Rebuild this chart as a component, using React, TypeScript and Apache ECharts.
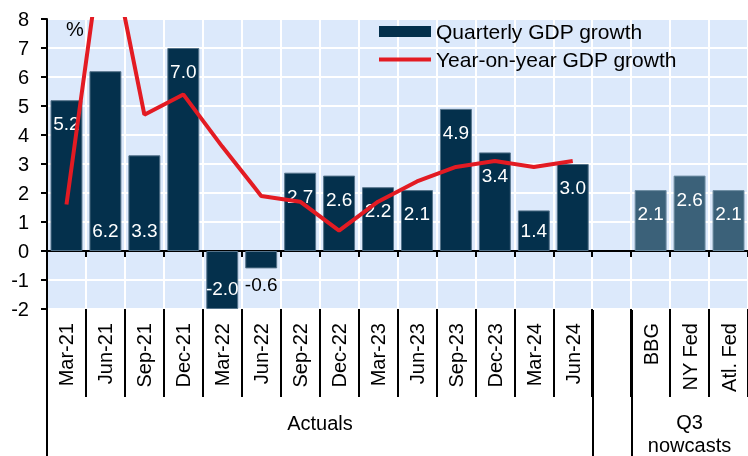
import React, { useEffect, useRef } from "react";
import * as echarts from "echarts";

const categories = [
  "Mar-21", "Jun-21", "Sep-21", "Dec-21", "Mar-22", "Jun-22", "Sep-22", "Dec-22",
  "Mar-23", "Jun-23", "Sep-23", "Dec-23", "Mar-24", "Jun-24", "", "BBG", "NY Fed", "Atl. Fed",
];
const quarterlyGrowth: (number | null)[] = [
  5.2, 6.2, 3.3, 7.0, -2.0, -0.6, 2.7, 2.6, 2.2, 2.1, 4.9, 3.4, 1.4, 3.0, null, 2.1, 2.6, 2.1,
];
const yoyGrowth: (number | null)[] = [
  1.6, 11.4, 4.7, 5.4, 3.6, 1.9, 1.7, 0.7, 1.7, 2.4, 2.9, 3.1, 2.9, 3.1, null, null, null, null,
];
const nowcastCategories = ["BBG", "NY Fed", "Atl. Fed"];
const labelAtBase = ["Jun-21", "Sep-21", "Mar-22", "Mar-24"];
const labelOutside = ["Jun-22"];
const yMin = -2;
const yMax = 8;
const yInterval = 1;
const groupActuals = "Actuals";
const groupNowcasts = "Q3\nnowcasts";

const FONT = "'Liberation Sans', Arial, sans-serif";
const NAVY = "#04304c";
const NOWCAST = "#3b6179";
const RED = "#e31b23";
const BG = "#dce9fb";

const GRID_LEFT = 47;
const GRID_TOP = 19;
const GRID_WIDTH = 702;
const GRID_HEIGHT = 290;

export default function App() {
  const ref = useRef<HTMLDivElement>(null);
  useEffect(() => {
    document.body.style.margin = "0";
    if (!ref.current) return;
    const chart = echarts.init(ref.current, undefined, { renderer: "svg" });
    const catW = GRID_WIDTH / categories.length;
    const bottomY = GRID_TOP + GRID_HEIGHT;
    const sepIdx = categories.indexOf("");

    const barData = quarterlyGrowth.map((v, i) => {
      const cat = categories[i];
      const isNow = nowcastCategories.includes(cat);
      let label: any = { position: "insideTop", distance: 14 };
      if (labelAtBase.includes(cat)) label = { position: "insideBottom", distance: 11 };
      if (labelOutside.includes(cat)) label = { position: "bottom", distance: 7, color: "#000" };
      return {
        value: v,
        itemStyle: isNow ? { color: NOWCAST, borderColor: "#6f8ea3" } : undefined,
        label,
      };
    });

    chart.setOption({
      animation: false,
      textStyle: { fontFamily: FONT },
      grid: {
        left: GRID_LEFT,
        top: GRID_TOP,
        width: GRID_WIDTH,
        height: GRID_HEIGHT,
        show: true,
        backgroundColor: BG,
        borderWidth: 0,
      },
      legend: {
        left: 379,
        top: 21,
        padding: 0,
        orient: "vertical",
        itemWidth: 52,
        itemHeight: 11,
        itemGap: 7,
        z: 10,
        textStyle: { fontSize: 21, color: "#000", fontFamily: FONT },
        data: [
          { name: "Quarterly GDP growth", icon: "rect", itemStyle: { borderWidth: 0 } },
          {
            name: "Year-on-year GDP growth",
            icon: "path://M0,0 L52,0 L52,4 L0,4 Z",
            itemStyle: { color: RED, borderWidth: 0 },
          },
        ],
      },
      xAxis: [
        {
          type: "category",
          data: categories,
          axisLine: { show: true, onZero: true, lineStyle: { color: "#000", width: 2 } },
          axisTick: { show: true, length: 6, interval: 0, lineStyle: { color: "#000", width: 2 } },
          axisLabel: { show: false },
          splitLine: { show: true, interval: 0, lineStyle: { color: "#fff", width: 2 } },
        },
        {
          type: "category",
          position: "bottom",
          data: categories,
          axisLine: { show: false, onZero: false },
          axisTick: { show: true, length: 88, interval: 0, lineStyle: { color: "#000", width: 2 } },
          axisLabel: {
            show: true,
            interval: 0,
            rotate: 90,
            margin: 14,
            fontSize: 20,
            color: "#000",
            fontFamily: FONT,
          },
          splitLine: { show: false },
        },
      ],
      yAxis: {
        type: "value",
        min: yMin,
        max: yMax,
        interval: yInterval,
        axisLine: { show: true, lineStyle: { color: "#000", width: 2 } },
        axisTick: { show: true, length: 6, lineStyle: { color: "#000", width: 2 } },
        axisLabel: { fontSize: 20, color: "#000", margin: 18, fontFamily: FONT },
        splitLine: { show: true, lineStyle: { color: "#fff", width: 2 } },
      },
      series: [
        {
          name: "Quarterly GDP growth",
          type: "bar",
          xAxisIndex: 0,
          data: barData,
          barCategoryGap: "18%",
          itemStyle: { color: NAVY, borderColor: "#55738a", borderWidth: 1 },
          label: {
            show: true,
            color: "#fff",
            fontSize: 19,
            fontFamily: FONT,
            formatter: (p: any) => (p.value == null ? "" : Number(p.value).toFixed(1)),
          },
          z: 2,
        },
        {
          name: "Year-on-year GDP growth",
          type: "line",
          xAxisIndex: 0,
          data: yoyGrowth,
          symbol: "none",
          showSymbol: false,
          connectNulls: false,
          clip: true,
          lineStyle: { color: RED, width: 4 },
          itemStyle: { color: RED },
          z: 3,
        },
      ],
      graphic: [
        {
          type: "text",
          left: 66,
          top: 19,
          style: { text: "%", fontSize: 20, fill: "#000", font: `20px ${FONT}` },
        },
        {
          type: "line",
          shape: { x1: GRID_LEFT, y1: bottomY, x2: GRID_LEFT, y2: 456 },
          style: { stroke: "#000", lineWidth: 2 },
        },
        {
          type: "line",
          shape: {
            x1: GRID_LEFT + sepIdx * catW,
            y1: bottomY,
            x2: GRID_LEFT + sepIdx * catW,
            y2: 456,
          },
          style: { stroke: "#000", lineWidth: 2 },
        },
        {
          type: "line",
          shape: {
            x1: GRID_LEFT + (sepIdx + 1) * catW,
            y1: bottomY,
            x2: GRID_LEFT + (sepIdx + 1) * catW,
            y2: 456,
          },
          style: { stroke: "#000", lineWidth: 2 },
        },
        {
          type: "text",
          x: GRID_LEFT + (sepIdx * catW) / 2,
          y: 423,
          style: {
            text: groupActuals,
            font: `20px ${FONT}`,
            fill: "#000",
            align: "center",
            verticalAlign: "middle",
          },
        },
        {
          type: "text",
          x: GRID_LEFT + (sepIdx + 1) * catW + (GRID_WIDTH - (sepIdx + 1) * catW) / 2 - 1,
          y: 433,
          style: {
            text: groupNowcasts,
            font: `20px ${FONT}`,
            fill: "#000",
            align: "center",
            verticalAlign: "middle",
            lineHeight: 23,
          },
        },
      ],
    });
    return () => chart.dispose();
  }, []);
  return (
    <div
      ref={ref}
      style={{ position: "fixed", left: 0, top: 0, width: 748, height: 456 }}
    />
  );
}
